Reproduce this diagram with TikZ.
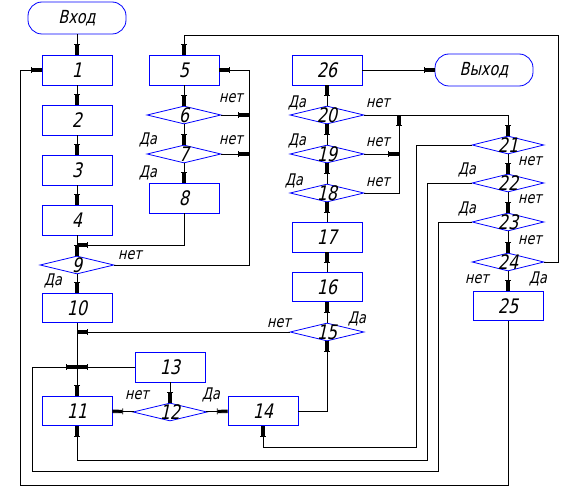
\documentclass[tikz,border=0pt]{standalone}
\usepackage{fontspec}
\newfontfamily\gostfont[FakeStretch=0.8,FakeSlant=0.22]{DejaVu Sans}
\usetikzlibrary{shapes.geometric,arrows.meta}
\tikzset{
  blok/.style={draw=blue, line width=0.8pt, minimum width=70pt, minimum height=30pt, inner sep=0pt, font=\gostfont\fontsize{20}{20}\selectfont},
  term/.style={blok, rounded corners=14pt, minimum width=98pt, minimum height=32pt, font=\gostfont\fontsize{18}{18}\selectfont},
  usl/.style={diamond, draw=blue, line width=0.8pt, minimum width=74pt, minimum height=18pt, inner sep=0pt,
    label={[anchor=center, inner sep=0pt, font=\gostfont\fontsize{20}{20}\selectfont]center:#1}},
  sv/.style={line width=0.8pt},
  arr/.style={sv, -{Bar[width=6pt,line width=0.8pt]Rectangle[length=10pt,width=3.4pt]}},
  otv/.style={inner sep=0pt, font=\gostfont\fontsize{16}{16}\selectfont}
}
\begin{document}
\begin{tikzpicture}[x=1pt,y=-1pt]
        \useasboundingbox (0,0) rectangle (568,492);

        % First column
        \node[term] (vhod) at (77,18) {Вход};
        \node[blok] (b1) at (77,70) {1};
        \node[blok] (b2) at (77,120) {2};
        \node[blok] (b3) at (77,170) {3};
        \node[blok] (b4) at (77,220) {4};
        \node[usl=9] (d9) at (77,265) {};
        \node[blok, minimum height=29pt] (b10) at (77,308) {10};
        \node[blok, minimum height=29pt] (b11) at (77,411) {11};
        \node[usl=12] (d12) at (170,412) {};
        \node[blok] (b13) at (170,367) {13};
        \node[blok, minimum height=29pt] (b14) at (263,411) {14};

        % Second column
        \node[blok] (b5) at (184,70) {5};
        \node[usl=6] (d6) at (184,115) {};
        \node[usl=7] (d7) at (184,154) {};
        \node[blok] (b8) at (184,198) {8};

        % Third column
        \node[blok] (b26) at (327,70) {26};
        \node[term] (vyhod) at (484,70) {Выход};
        \node[usl=20] (d20) at (327,115) {};
        \node[usl=19] (d19) at (327,154) {};
        \node[usl=18] (d18) at (327,193) {};
        \node[blok] (b17) at (327,237) {17};
        \node[blok, minimum height=29pt] (b16) at (327,287) {16};
        \node[usl=15] (d15) at (327,332) {};

        % Fourth column
        \node[usl=21, minimum width=72pt] (d21) at (508,145) {};
        \node[usl=22, minimum width=72pt] (d22) at (508,183) {};
        \node[usl=23, minimum width=72pt] (d23) at (508,222) {};
        \node[usl=24, minimum width=72pt] (d24) at (508,262) {};
        \node[blok, minimum height=29pt] (b25) at (508,306) {25};

        % Junctions
        \coordinate (t4) at (77,245);
        \coordinate (t10) at (77,332);
        \coordinate (t13) at (77,367);
        \coordinate (r5) at (249,70);
        \coordinate (s20) at (399,115);

        % Straight links
        \foreach \a/\b in {vhod/b1, b1/b2, b2/b3, b3/b4, b4/d9, d9/b10, b10/b11,
            b5/d6, d6/d7, d7/b8, b13/d12, d12/b11, d12/b14, d15/b16, b16/b17,
            b17/d18, d18/d19, d19/d20, d20/b26, b26/vyhod,
            d21/d22, d22/d23, d23/d24, d24/b25}
          \draw[arr] (\a) -- (\b);

        % Returns
        \draw[arr] (b8.south) |- (t4);
        \draw[sv] (d9.east) -| (r5);
        \draw[arr] (r5) -- (b5.east);
        \draw[arr] (d6.east) -- (d6.east -| r5);
        \draw[arr] (d7.east) -- (d7.east -| r5);
        \draw[arr] (d15.west) -- (t10);
        \draw[arr] (b13.west) -- (t13);
        \draw[arr] (b14.east) -| (d15.south);
        \draw[arr] (d18.east) -| (s20);
        \draw[arr] (d19.east) -- (d19.east -| s20);
        \draw[arr] (d20.east) -| (d21.north);
        \draw[arr] (d21.west) -| (416,447) -| (b14.south);
        \draw[arr] (d22.west) -| (427,460) -| (b11.south);
        \draw[arr] (d23.west) -| (438,471) -| (32,367) -- (t13);
        \draw[arr] (d24.east) -| (558,35) -| (b5.north);
        \draw[arr] (b25.south) |- (20,485) |- (b1.west);

        % Answers
        \node[otv] (o9a) at (53,281) {Да};
        \node[otv] (o9b) at (130,255) {нет};
        \node[otv] (o6b) at (231,98) {нет};
        \node[otv] (o6a) at (148,140) {Да};
        \node[otv] (o7b) at (231,140) {нет};
        \node[otv] (o7a) at (148,173) {Да};
        \node[otv] (o12b) at (137,395) {нет};
        \node[otv] (o12a) at (211,395) {Да};
        \node[otv] (o15b) at (279,323) {нет};
        \node[otv] (o15a) at (357,319) {Да};
        \node[otv] (o20a) at (297,103) {Да};
        \node[otv] (o20b) at (378,103) {нет};
        \node[otv] (o19a) at (297,141) {Да};
        \node[otv] (o19b) at (378,142) {нет};
        \node[otv] (o18a) at (294,181) {Да};
        \node[otv] (o18b) at (378,182) {нет};
        \node[otv] (o21b) at (530,161) {нет};
        \node[otv] (o22a) at (467,170) {Да};
        \node[otv] (o22b) at (530,199) {нет};
        \node[otv] (o23a) at (467,209) {Да};
        \node[otv] (o23b) at (530,240) {нет};
        \node[otv] (o24b) at (477,279) {нет};
        \node[otv] (o24a) at (538,279) {Да};
\end{tikzpicture}
\end{document}
